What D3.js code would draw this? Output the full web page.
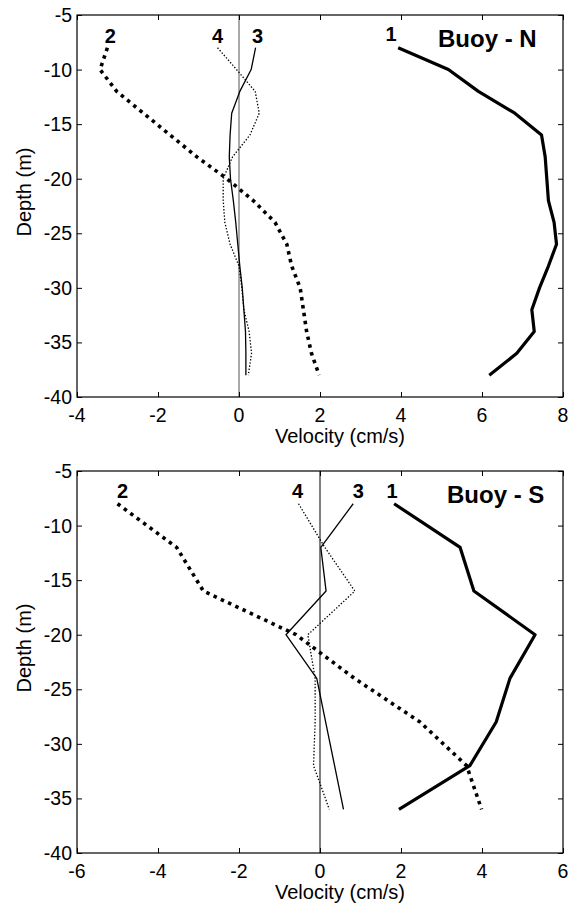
<!DOCTYPE html>
<html>
<head>
<meta charset="utf-8">
<script src="https://cdn.jsdelivr.net/npm/d3@7/dist/d3.min.js"></script>
<style>
  body { margin: 0; background: #fff; }
  svg text { font-family: "Liberation Sans", Arial, Helvetica, sans-serif; fill: #000; }
</style>
</head>
<body>
<script>
// Buoy - N : profiles every 2 m
let depthsN = [-8, -10, -12, -14, -16, -18, -20, -22, -24, -26, -28, -30, -32, -34, -36, -38];
let northS1 = [3.93, 5.17, 5.91, 6.81, 7.47, 7.56, 7.60, 7.64, 7.78, 7.84, 7.64, 7.42, 7.23, 7.29, 6.86, 6.18];
let northS2 = [-3.25, -3.43, -3.02, -2.36, -1.70, -1.04, -0.30, 0.35, 0.89, 1.18, 1.30, 1.51, 1.59, 1.67, 1.79, 1.98];
let northS3 = [0.41, 0.30, 0.02, -0.18, -0.22, -0.24, -0.21, -0.14, -0.08, -0.03, 0.02, 0.08, 0.12, 0.16, 0.17, 0.17];
let northS4 = [-0.53, -0.06, 0.40, 0.50, 0.27, -0.16, -0.39, -0.39, -0.35, -0.22, 0.00, 0.07, 0.12, 0.25, 0.31, 0.23];

// Buoy - S : profiles every 4 m
let depthsS = [-8, -12, -16, -20, -24, -28, -32, -36];
let southS1 = [1.83, 3.46, 3.80, 5.31, 4.69, 4.35, 3.70, 1.95];
let southS2 = [-5.00, -3.54, -2.88, -0.59, 0.85, 2.47, 3.62, 3.99];
let southS3 = [0.82, 0.02, 0.15, -0.84, -0.08, 0.14, 0.36, 0.58];
let southS4 = [-0.53, 0.12, 0.86, -0.30, -0.12, -0.12, -0.16, 0.23];

let seriesNames = ['1', '2', '3', '4'];
let yTicks = [-5, -10, -15, -20, -25, -30, -35, -40];
let xTicksN = [-4, -2, 0, 2, 4, 6, 8];
let xTicksS = [-6, -4, -2, 0, 2, 4, 6];
let xTitle = 'Velocity (cm/s)';
let yTitle = 'Depth (m)';

let w = 578, h = 904;

// line look for series 1..4
let styles = [
	{ width: 3.2, dash: null },
	{ width: 3.6, dash: '3.5,4.5' },
	{ width: 1.3, dash: null },
	{ width: 1.3, dash: '1.4,1.8' }
];

let svg = d3.select('body')
	.append('svg')
	.attr('width', w)
	.attr('height', h);

let drawPanel = (cfg) => {
	let left = 77, right = 563;
	let top = cfg.top, bottom = cfg.bottom;

	let xScale = d3.scaleLinear()
		.domain(d3.extent(cfg.xTicks))
		.range([left, right]);

	let yScale = d3.scaleLinear()
		.domain([-5, -40])
		.range([top, bottom]);

	let g = svg.append('g');

	// zero line
	g.append('line')
		.attr('x1', xScale(0)).attr('x2', xScale(0))
		.attr('y1', top).attr('y2', bottom)
		.attr('stroke', cfg.zeroColor)
		.attr('stroke-width', 1);

	// profiles
	let line = d3.line()
		.x(d => xScale(d[0]))
		.y(d => yScale(d[1]));

	cfg.series.forEach((vals, i) => {
		let pts = vals.map((v, j) => [v, cfg.depths[j]]);
		g.append('path')
			.attr('d', line(pts))
			.attr('fill', 'none')
			.attr('stroke', '#000')
			.attr('stroke-width', styles[i].width)
			.attr('stroke-dasharray', styles[i].dash)
			.attr('stroke-linejoin', 'round');

		g.append('text')
			.attr('x', xScale(vals[0]) + cfg.labelDx[i])
			.attr('y', yScale(cfg.depths[0]) - cfg.labelDy[i])
			.attr('text-anchor', 'middle')
			.style('font-size', '20px')
			.style('font-weight', 'bold')
			.text(seriesNames[i]);
	});

	// axes, ticks pointing inward (matlab style)
	let xAxisB = d3.axisTop(xScale).tickValues(cfg.xTicks).tickSize(5).tickFormat('');
	let xAxisT = d3.axisBottom(xScale).tickValues(cfg.xTicks).tickSize(5).tickFormat('');
	let yAxisL = d3.axisRight(yScale).tickValues(yTicks).tickSize(5).tickFormat('');
	let yAxisR = d3.axisLeft(yScale).tickValues(yTicks).tickSize(5).tickFormat('');

	let axes = [
		[xAxisB, 0, bottom], [xAxisT, 0, top],
		[yAxisL, left, 0], [yAxisR, right, 0]
	];
	axes.forEach(a => {
		let ag = g.append('g')
			.attr('transform', 'translate(' + a[1] + ',' + a[2] + ')')
			.call(a[0]);
		ag.select('.domain').remove();
		ag.selectAll('line').attr('stroke', '#000').attr('stroke-width', 1);
	});

	g.append('rect')
		.attr('x', left).attr('y', top)
		.attr('width', right - left).attr('height', bottom - top)
		.attr('fill', 'none')
		.attr('stroke', '#000')
		.attr('stroke-width', 1.2);

	// tick labels
	g.selectAll('.xlab')
		.data(cfg.xTicks)
		.enter()
		.append('text')
		.attr('x', d => xScale(d))
		.attr('y', bottom + 25)
		.attr('text-anchor', 'middle')
		.style('font-size', '19.5px')
		.text(d => d);

	g.selectAll('.ylab')
		.data(yTicks)
		.enter()
		.append('text')
		.attr('x', left - 5)
		.attr('y', d => yScale(d) + 7)
		.attr('text-anchor', 'end')
		.style('font-size', '19.5px')
		.text(d => d);

	// titles
	g.append('text')
		.attr('x', 340)
		.attr('y', bottom + 46)
		.attr('text-anchor', 'middle')
		.style('font-size', '20px')
		.text(xTitle);

	g.append('text')
		.attr('transform', 'translate(31,' + ((top + bottom) / 2 - 14) + ') rotate(-90)')
		.attr('text-anchor', 'middle')
		.style('font-size', '20px')
		.text(yTitle);

	g.append('text')
		.attr('x', cfg.nameX)
		.attr('y', top + cfg.nameDy)
		.style('font-size', '24px')
		.style('font-weight', 'bold')
		.text(cfg.name);
};

drawPanel({
	top: 15, bottom: 397,
	xTicks: xTicksN,
	depths: depthsN,
	series: [northS1, northS2, northS3, northS4],
	labelDx: [-7, 3, 2, 0],
	labelDy: [7, 5, 5, 5],
	zeroColor: '#555',
	name: 'Buoy - N', nameX: 438, nameDy: 32
});

drawPanel({
	top: 471, bottom: 853,
	xTicks: xTicksS,
	depths: depthsS,
	series: [southS1, southS2, southS3, southS4],
	labelDx: [-2, 5, 5, -1],
	labelDy: [6, 6, 6, 6],
	zeroColor: '#000',
	name: 'Buoy - S', nameX: 447, nameDy: 32
});
</script>
</body>
</html>
